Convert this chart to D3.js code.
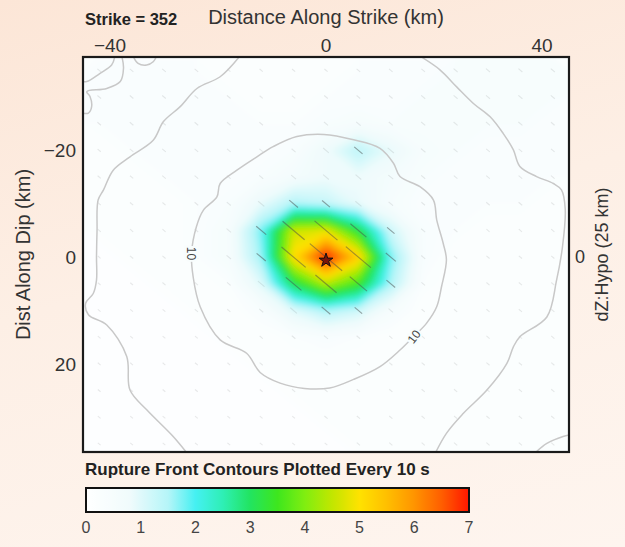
<!DOCTYPE html>
<html>
<head>
<meta charset="utf-8">
<script src="https://cdn.jsdelivr.net/npm/d3@7"></script>
<style>
  html, body { margin: 0; padding: 0; }
  body {
    width: 625px; height: 547px; overflow: hidden;
    background: linear-gradient(165deg, #fce6d7 0%, #fdefe5 45%, #fef5ef 100%);
    font-family: "Liberation Sans", Arial, Helvetica, sans-serif;
  }
  text { fill: #333; }
</style>
</head>
<body>
<svg id="chart" width="625" height="547"></svg>
<script>
// subfault grid centres (km)
const strikeNodes = [-42, -36, -30, -24, -18, -12, -6, 0, 6, 12, 18, 24, 30, 36, 42];
const dipNodes = [-35, -30, -25, -20, -15, -10, -5, 0, 5, 10, 15, 20, 25, 30, 35];

// slip (m), one row per dip node, top to bottom
const slip = [
  [0.3, 0.3, 0.3, 0.3, 0.2, 0.2, 0.2, 0.2, 0.3, 0.3, 0.3, 0.4, 0.4, 0.4, 0.4],
  [0.3, 0.3, 0.3, 0.3, 0.3, 0.2, 0.2, 0.3, 0.3, 0.3, 0.4, 0.4, 0.4, 0.4, 0.4],
  [0.3, 0.3, 0.3, 0.3, 0.3, 0.3, 0.3, 0.4, 0.5, 0.4, 0.4, 0.4, 0.4, 0.4, 0.3],
  [0.2, 0.3, 0.3, 0.3, 0.3, 0.3, 0.4, 0.8, 1.4, 0.9, 0.5, 0.4, 0.3, 0.3, 0.3],
  [0.2, 0.2, 0.3, 0.3, 0.3, 0.4, 0.6, 0.8, 0.8, 0.6, 0.4, 0.3, 0.3, 0.3, 0.3],
  [0.2, 0.2, 0.2, 0.3, 0.4, 0.9, 1.5, 1.3, 0.9, 0.5, 0.3, 0.3, 0.3, 0.3, 0.2],
  [0.2, 0.2, 0.2, 0.3, 0.5, 1.8, 4.6, 4.8, 3.2, 1.2, 0.4, 0.3, 0.2, 0.2, 0.2],
  [0.1, 0.2, 0.2, 0.3, 0.5, 1.6, 5.1, 7.0, 5.3, 1.8, 0.4, 0.2, 0.2, 0.2, 0.2],
  [0.1, 0.1, 0.2, 0.2, 0.3, 1.0, 3.1, 4.4, 3.5, 1.5, 0.3, 0.2, 0.2, 0.2, 0.2],
  [0.1, 0.1, 0.1, 0.2, 0.2, 0.4, 1.0, 1.5, 1.2, 0.5, 0.2, 0.2, 0.2, 0.2, 0.2],
  [0.1, 0.1, 0.1, 0.1, 0.2, 0.2, 0.3, 0.4, 0.3, 0.2, 0.2, 0.2, 0.2, 0.2, 0.2],
  [0.1, 0.1, 0.1, 0.1, 0.1, 0.2, 0.2, 0.2, 0.2, 0.2, 0.2, 0.2, 0.2, 0.2, 0.2],
  [0.1, 0.1, 0.1, 0.1, 0.1, 0.1, 0.2, 0.2, 0.2, 0.2, 0.2, 0.2, 0.2, 0.2, 0.2],
  [0.1, 0.1, 0.1, 0.1, 0.1, 0.1, 0.1, 0.2, 0.2, 0.2, 0.2, 0.2, 0.2, 0.2, 0.2],
  [0.1, 0.1, 0.1, 0.1, 0.1, 0.1, 0.1, 0.1, 0.2, 0.2, 0.2, 0.2, 0.2, 0.2, 0.2]
];
const rakeDeg = 140;          // slip direction for the little vectors
const hypo = [0, 0.6];        // hypocentre (km along strike, km along dip)

const xTicks = [-40, 0, 40];
const yTicks = [-20, 0, 20];
const cbarTicks = [0, 1, 2, 3, 4, 5, 6, 7];
const cbarStops = [0, 0.8, 1.5, 2, 2.5, 3, 3.5, 4, 4.5, 5, 5.5, 6, 6.5, 7];
const cbarColors = ["#ffffff", "#f0fbfc", "#b5f5f8", "#45f0f2", "#2eefb5", "#22e460", "#3ee61e",
                    "#80ee10", "#c2e600", "#ffe200", "#ffbf00", "#ff9400", "#ff5e00", "#ff1700"];

// rupture front contours (km)
const front10 = [[-0.4, -23.0], [5.1, -22.0], [10.0, -20.4], [12.5, -17.6], [13.7, -15.1], [17.4, -13.2],
  [19.9, -10.7], [20.5, -7.0], [21.7, -2.6], [22.3, 0.5], [21.4, 5.5], [20.5, 9.3], [18.6, 12.4],
  [16.1, 15.0], [13.7, 17.4], [10.0, 20.5], [5.1, 22.9], [0.7, 24.5], [-4.0, 24.6], [-8.5, 23.6],
  [-12.2, 21.6], [-14.7, 18.0], [-19.6, 15.5], [-23.3, 9.3], [-24.6, 3.7], [-24.9, -0.7], [-24.0, -5.7],
  [-22.7, -8.8], [-20.2, -11.3], [-19.6, -13.8], [-16.5, -16.3], [-12.8, -18.8], [-9.8, -20.7], [-5.4, -22.6]];
const front20West = [[-16.0, -37.6], [-19.6, -33.8], [-23.9, -31.6], [-27.0, -28.2], [-30.1, -25.4],
  [-32.0, -21.9], [-36.3, -18.8], [-39.4, -16.3], [-41.2, -12.6], [-42.2, -10.7], [-42.4, -5.0],
  [-42.5, 0.0], [-42.5, 4.3], [-43.1, 6.8], [-44.5, 8.6], [-44.0, 10.8], [-40.6, 12.7], [-36.9, 18.6],
  [-36.3, 24.9], [-33.2, 28.6], [-28.3, 33.6], [-25.2, 37.4]];
const front20East = [[17.5, -37.6], [21.1, -35.1], [24.2, -31.9], [27.3, -28.8], [30.4, -26.3],
  [32.8, -23.2], [34.7, -20.1], [35.9, -17.0], [39.0, -15.1], [42.1, -13.8], [43.6, -12.6],
  [44.3, -9.0], [43.8, -2.0], [42.7, 4.3], [40.9, 11.2], [35.9, 14.9], [34.7, 16.8], [33.5, 19.9],
  [29.8, 24.9], [25.4, 29.3], [22.3, 33.0], [19.9, 37.4]];
const front30SE = [[38.8, 36.6], [40.9, 34.9], [43.9, 33.6], [45.2, 33.3]];
const front30NW = [[-45.2, -32.9], [-44.3, -32.9], [-41.9, -34.4], [-39.7, -36.0], [-39.1, -37.6]];
const front40NW = [[-45.2, -27.0], [-44.0, -27.0], [-43.4, -28.2], [-43.7, -30.1], [-44.3, -31.0],
  [-40.6, -31.6], [-38.1, -32.9], [-37.5, -35.4], [-37.8, -37.6]];
const frontBumpN = [[-35.7, -37.6], [-34.8, -36.3], [-33.2, -36.0], [-32.0, -36.6], [-31.4, -37.6]];
const frontLabels = [
  { x: -24.9, y: -0.7, angle: 90, text: "10" },
  { x: 16.3, y: 14.9, angle: -52, text: "10" }
];

const svg = d3.select("#chart");
const plot = { left: 83, right: 569, top: 57, bottom: 452 };

const xScale = d3.scaleLinear().domain([-45, 45]).range([plot.left, plot.right]);
const yScale = d3.scaleLinear().domain([-37.5, 36.5]).range([plot.top, plot.bottom]);
const color = d3.scaleLinear().domain(cbarStops).range(cbarColors).clamp(true);

const defs = svg.append("defs");
defs.append("clipPath").attr("id", "plotClip")
  .append("rect")
  .attr("x", plot.left).attr("y", plot.top)
  .attr("width", plot.right - plot.left).attr("height", plot.bottom - plot.top);
defs.append("filter").attr("id", "soft")
  .attr("x", "-10%").attr("y", "-10%").attr("width", "120%").attr("height", "120%")
  .append("feGaussianBlur").attr("stdDeviation", 3);

// ---- slip image (filled contours of the subfault grid, softened) ----
const nx = strikeNodes.length, ny = dipNodes.length;
const dxKm = strikeNodes[1] - strikeNodes[0], dyKm = dipNodes[1] - dipNodes[0];
const values = slip.flat();
const levels = d3.range(0.05, 7.01, 0.05);
const bands = d3.contours().size([nx, ny]).thresholds(levels)(values);

// grid coordinate -> page pixels
const gridToPx = d3.geoTransform({
  point: function(gx, gy) {
    this.stream.point(
      xScale(strikeNodes[0] - dxKm / 2 + gx * dxKm),
      yScale(dipNodes[0] - dyKm / 2 + gy * dyKm));
  }
});
const gridPath = d3.geoPath(gridToPx);

const slipLayer = svg.append("g").attr("clip-path", "url(#plotClip)");
const soft = slipLayer.append("g").attr("filter", "url(#soft)");
soft.append("rect")
  .attr("x", plot.left - 20).attr("y", plot.top - 20)
  .attr("width", plot.right - plot.left + 40).attr("height", plot.bottom - plot.top + 40)
  .attr("fill", color(0.2));
soft.selectAll("path")
  .data(bands)
  .join("path")
  .attr("d", gridPath)
  .attr("fill", d => color(d.value + 0.025));

// ---- slip vectors ----
const vecs = [];
dipNodes.forEach((dy, j) => strikeNodes.forEach((sx, i) => vecs.push({ x: sx, y: dy, s: slip[j][i] })));
const ang = rakeDeg * Math.PI / 180;
const half = d => 1.5 + d.s * 2.8;
slipLayer.append("g").selectAll("line")
  .data(vecs)
  .join("line")
  .attr("x1", d => xScale(d.x) + Math.cos(ang) * half(d))
  .attr("y1", d => yScale(d.y) - Math.sin(ang) * half(d))
  .attr("x2", d => xScale(d.x) - Math.cos(ang) * half(d))
  .attr("y2", d => yScale(d.y) + Math.sin(ang) * half(d))
  .attr("stroke", "#4a4a4a")
  .attr("stroke-opacity", d => d.s > 1 ? 0.5 : 0.12)
  .attr("stroke-width", 1.1);

// ---- rupture front contours ----
const lineGen = d3.line().x(d => xScale(d[0])).y(d => yScale(d[1])).curve(d3.curveCatmullRom);
const frontLayer = slipLayer.append("g")
  .attr("fill", "none").attr("stroke", "#c8c8c8").attr("stroke-width", 1.5);
frontLayer.append("path").datum(front10)
  .attr("d", d3.line().x(d => xScale(d[0])).y(d => yScale(d[1])).curve(d3.curveCatmullRomClosed));
[front20West, front20East, front30SE, front30NW, front40NW, frontBumpN].forEach(f => {
  frontLayer.append("path").datum(f).attr("d", lineGen);
});
slipLayer.append("g").selectAll("text")
  .data(frontLabels)
  .join("text")
  .attr("transform", d => `translate(${xScale(d.x)},${yScale(d.y)}) rotate(${d.angle})`)
  .attr("text-anchor", "middle")
  .attr("dy", "0.35em")
  .style("font-size", "12px")
  .style("fill", "#444")
  .style("stroke", "#f8fdfd").style("stroke-width", 4).style("paint-order", "stroke")
  .text(d => d.text);

// hypocentre star
svg.append("path")
  .attr("d", d3.symbol().type(d3.symbolStar).size(60)())
  .attr("transform", `translate(${xScale(hypo[0])},${yScale(hypo[1])})`)
  .attr("fill", "#7a140a").attr("stroke", "#111").attr("stroke-width", 1);

// frame
svg.append("rect")
  .attr("x", plot.left).attr("y", plot.top)
  .attr("width", plot.right - plot.left).attr("height", plot.bottom - plot.top)
  .attr("fill", "none").attr("stroke", "#1a1a1a").attr("stroke-width", 2.2);

// ---- axes labels ----
svg.selectAll(".xtick")
  .data(xTicks)
  .join("text")
  .attr("class", "xtick")
  .attr("x", d => xScale(d)).attr("y", 52)
  .attr("text-anchor", "middle")
  .style("font-size", "19px")
  .text(d => d < 0 ? "\u2212" + Math.abs(d) : d);

svg.selectAll(".ytick")
  .data(yTicks)
  .join("text")
  .attr("class", "ytick")
  .attr("x", 76).attr("y", d => yScale(d))
  .attr("dy", "0.35em")
  .attr("text-anchor", "end")
  .style("font-size", "19px")
  .text(d => d < 0 ? "\u2212" + Math.abs(d) : d);

svg.append("text")
  .attr("x", 580).attr("y", yScale(0))
  .attr("dy", "0.35em").attr("text-anchor", "middle")
  .style("font-size", "18px")
  .text("0");

svg.append("text")
  .attr("x", 85).attr("y", 25)
  .style("font-size", "16.5px").style("font-weight", "bold")
  .style("fill", "#222")
  .text("Strike = 352");

svg.append("text")
  .attr("x", 326).attr("y", 24)
  .attr("text-anchor", "middle")
  .style("font-size", "20px")
  .text("Distance Along Strike (km)");

svg.append("text")
  .attr("transform", `translate(30,${(plot.top + plot.bottom) / 2}) rotate(-90)`)
  .attr("text-anchor", "middle")
  .style("font-size", "20px")
  .text("Dist Along Dip (km)");

svg.append("text")
  .attr("transform", `translate(608,${(plot.top + plot.bottom) / 2}) rotate(-90)`)
  .attr("text-anchor", "middle")
  .style("font-size", "18px")
  .text("dZ:Hypo (25 km)");

// ---- colour bar ----
svg.append("text")
  .attr("x", 85).attr("y", 475)
  .style("font-size", "17px").style("font-weight", "bold")
  .style("fill", "#222")
  .text("Rupture Front Contours Plotted Every 10 s");

const cbScale = d3.scaleLinear().domain([0, 7]).range([86, 469]);
const grad = defs.append("linearGradient").attr("id", "cbar");
grad.selectAll("stop")
  .data(d3.range(0, 7.001, 0.1))
  .join("stop")
  .attr("offset", d => d / 7)
  .attr("stop-color", d => color(d));

svg.append("rect")
  .attr("x", cbScale(0)).attr("y", 488)
  .attr("width", cbScale(7) - cbScale(0)).attr("height", 24)
  .attr("fill", "url(#cbar)")
  .attr("stroke", "#111").attr("stroke-width", 2);

svg.selectAll(".ctick")
  .data(cbarTicks)
  .join("text")
  .attr("class", "ctick")
  .attr("x", d => cbScale(d)).attr("y", 533)
  .attr("text-anchor", "middle")
  .style("font-size", "16px")
  .style("fill", "#444")
  .text(d => d);
</script>
</body>
</html>
